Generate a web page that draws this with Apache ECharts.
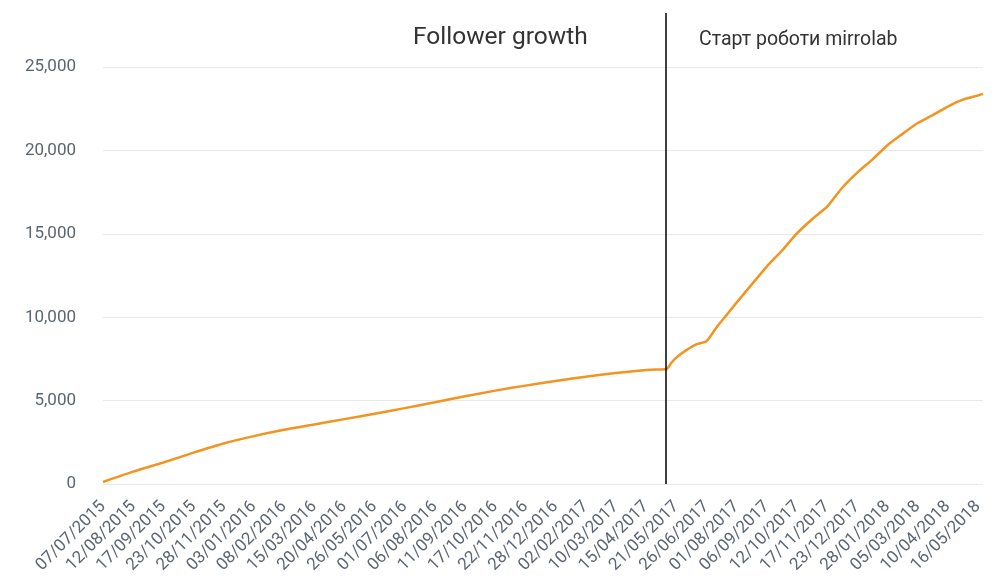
<!DOCTYPE html>
<html>
<head>
<meta charset="utf-8">
<script src="https://cdn.jsdelivr.net/npm/echarts@6/dist/echarts.min.js"></script>
<style>html,body{margin:0;padding:0;background:#fff}#c{width:1000px;height:583px}</style>
</head>
<body>
<div id="c"></div>
<script>
// Axis range (daily categories) and shown tick labels
var startDate = '07/07/2015';
var endDate = '22/05/2018';
var tickLabels = ['07/07/2015','12/08/2015','17/09/2015','23/10/2015','28/11/2015','03/01/2016','08/02/2016','15/03/2016','20/04/2016','26/05/2016','01/07/2016','06/08/2016','11/09/2016','17/10/2016','22/11/2016','28/12/2016','02/02/2017','10/03/2017','15/04/2017','21/05/2017','26/06/2017','01/08/2017','06/09/2017','12/10/2017','17/11/2017','23/12/2017','28/01/2018','05/03/2018','10/04/2018','16/05/2018'];

// Followers at these dates
var sampleDates = ['07/07/2015','12/08/2015','17/09/2015','23/10/2015','28/11/2015','03/01/2016','08/02/2016','15/03/2016','20/04/2016','26/05/2016','01/07/2016','06/08/2016','11/09/2016','17/10/2016','22/11/2016','28/12/2016','02/02/2017','10/03/2017','15/04/2017','27/04/2017','09/05/2017','15/05/2017','21/05/2017','02/06/2017','14/06/2017','26/06/2017','08/07/2017','20/07/2017','01/08/2017','06/09/2017','24/09/2017','12/10/2017','30/10/2017','17/11/2017','05/12/2017','23/12/2017','10/01/2018','28/01/2018','15/02/2018','05/03/2018','23/03/2018','10/04/2018','28/04/2018','16/05/2018','22/05/2018'];
var followers = [120,740,1290,1880,2430,2870,3250,3570,3890,4210,4550,4900,5260,5600,5900,6180,6430,6660,6840,6870,6880,7260,7580,8030,8380,8560,9390,10130,10880,13040,13990,15030,15880,16640,17770,18680,19460,20320,21000,21650,22120,22640,23050,23300,23400];

var markerDate = '09/05/2017';
var markerText = 'Старт роботи mirrolab';
var chartTitle = 'Follower growth';

function parseD(s){var p=s.split('/');return Date.UTC(+p[2],+p[1]-1,+p[0]);}
function fmtD(t){var d=new Date(t);var dd=('0'+d.getUTCDate()).slice(-2),mm=('0'+(d.getUTCMonth()+1)).slice(-2);return dd+'/'+mm+'/'+d.getUTCFullYear();}
var categories=[];
for(var t=parseD(startDate);t<=parseD(endDate);t+=86400000){categories.push(fmtD(t));}
var shown={};tickLabels.forEach(function(l){shown[l]=true;});
var seriesData=sampleDates.map(function(d,i){return [d,followers[i]];});

var chart=echarts.init(document.getElementById('c'),null,{renderer:'canvas'});
chart.setOption({
  animation:false,
  textStyle:{fontFamily:'Roboto'},
  title:[
    {text:chartTitle,left:408,top:20,textStyle:{fontSize:24.5,fontWeight:'normal',color:'#333',fontFamily:'Roboto'}},
    {text:markerText,left:694,top:25,textStyle:{fontSize:19.5,fontWeight:'normal',color:'#333',fontFamily:'Roboto'}}
  ],
  grid:{left:103,right:17,top:13,bottom:99,containLabel:false},
  xAxis:{
    type:'category',data:categories,boundaryGap:false,
    axisLine:{show:false},axisTick:{show:false},
    axisLabel:{interval:function(i,v){return !!shown[v];},rotate:45,margin:20,fontSize:17,color:'#5b6572',fontFamily:'Roboto'},
    splitLine:{show:false}
  },
  yAxis:{
    type:'value',min:0,max:28250,interval:5000,
    axisLine:{show:false},axisTick:{show:false},
    axisLabel:{margin:27,fontSize:17,color:'#5b6572',fontFamily:'Roboto',showMaxLabel:false},
    splitLine:{show:true,showMaxLine:false,lineStyle:{color:'#e8e8e8',width:1}}
  },
  series:[{
    type:'line',data:seriesData,smooth:0.2,showSymbol:false,
    lineStyle:{color:'#f39421',width:2.5},itemStyle:{color:'#f39421'},
    markLine:{symbol:['none','none'],silent:true,label:{show:false},
      lineStyle:{color:'#000',width:1.5,type:'solid'},
      data:[{xAxis:markerDate}]}
  }]
});
</script>
</body>
</html>
